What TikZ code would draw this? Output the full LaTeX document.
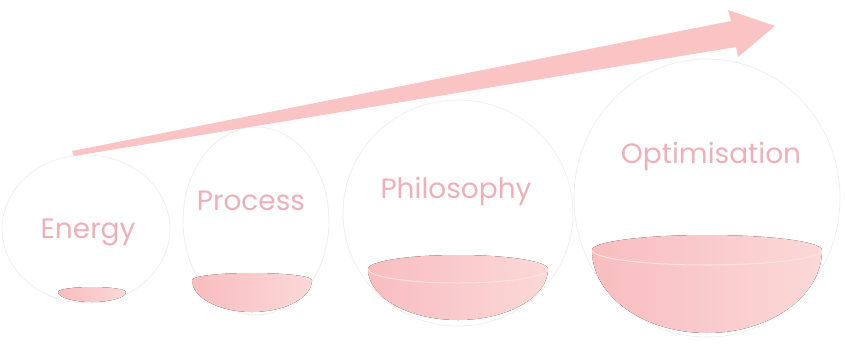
\documentclass[tikz,border=0pt]{standalone}
\usepackage{fontspec}
\setmainfont{Poppins}
\usepackage{xcolor}
\usepackage{tikz}
\usetikzlibrary{calc,shapes.geometric}
\definecolor{arrowpink}{HTML}{FAC4C4}
\definecolor{labelpink}{HTML}{EDB0B9}
\definecolor{liquiddark}{HTML}{F8BDBF}
\definecolor{liquidlight}{HTML}{FBD8D8}
\definecolor{rimline}{HTML}{FDE3E3}
\definecolor{glassedge}{HTML}{EEEEEE}

\begin{document}
\begin{tikzpicture}[
  x=1pt, y=-1pt,
  glass/.style={
    ellipse, draw=glassedge, line width=0.8pt,
    inner sep=0pt, outer sep=0pt,
  },
  liquid/.style={left color=liquiddark, right color=liquidlight, draw=none},
  rim/.style={draw=rimline, line width=1pt},
  balltext/.style={
    anchor=base, text=labelpink, inner sep=0pt,
    font=\fontsize{28}{32}\selectfont,
  },
]

\useasboundingbox (0,0) rectangle (845,346);

\node[glass, minimum width=168pt, minimum height=148pt] (energyball) at (86,229) {};
\node[glass, minimum width=146pt, minimum height=188pt] (processball) at (256,221) {};
\node[glass, minimum width=230pt, minimum height=226pt] (philosophyball) at (458,213) {};
\node[glass, minimum width=266pt, minimum height=278pt] (optimisationball) at (707,198) {};

\fill[liquid] (58,292) arc[start angle=180, end angle=360, x radius=34, y radius=5]
  arc[start angle=0, end angle=180, x radius=34, y radius=10] -- cycle;
\fill[liquid] (192,280) arc[start angle=180, end angle=360, x radius=60, y radius=7]
  arc[start angle=0, end angle=180, x radius=60, y radius=32] -- cycle;
\fill[liquid] (368,269) arc[start angle=180, end angle=360, x radius=90, y radius=14]
  arc[start angle=0, end angle=180, x radius=90, y radius=51] -- cycle;
\draw[rim] (368,269) arc[start angle=180, end angle=0, x radius=90, y radius=14];
\fill[liquid] (592,250) arc[start angle=180, end angle=360, x radius=115, y radius=15]
  arc[start angle=0, end angle=180, x radius=115, y radius=83] -- cycle;
\draw[rim] (592,250) arc[start angle=180, end angle=0, x radius=115, y radius=15];

\node[balltext] (energy) at (88,238) {Energy};
\node[balltext] (process) at (251,210) {Process};
\node[balltext] (philosophy) at (456,198) {Philosophy};
\node[balltext] (optimisation) at (711,163) {Optimisation};

\coordinate (tailtop) at (72,151);
\coordinate (tailbottom) at (74,156);
\coordinate (basetop) at (731,21);
\coordinate (basebottom) at (736,47);
\coordinate (headtop) at (728,10);
\coordinate (headbottom) at (738,57);
\coordinate (tip) at (775,26);
\fill[arrowpink] (tailtop) -- (basetop) -- (headtop) -- (tip)
  -- (headbottom) -- (basebottom) -- (tailbottom) -- cycle;

\end{tikzpicture}
\end{document}
